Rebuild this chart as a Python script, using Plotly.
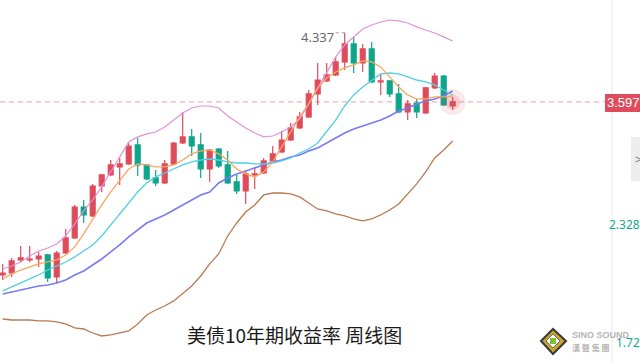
import plotly.graph_objects as go

# ---- data ----
idx = list(range(51))
open_ = [1.746,1.767,1.906,1.906,1.917,1.960,1.725,1.981,2.142,2.473,2.377,2.698,2.816,2.902,2.934,3.137,2.923,2.784,2.730,2.934,3.158,3.223,3.137,2.880,3.094,2.923,2.741,2.645,2.816,2.837,2.966,3.062,3.190,3.319,3.437,3.683,3.822,3.886,4.025,4.218,4.014,4.164,3.811,3.822,3.683,3.490,3.586,3.479,3.747,3.875,3.554]
high = [1.864,1.928,2.056,2.056,1.992,1.971,2.003,2.238,2.495,2.548,2.720,2.827,2.976,2.998,3.158,3.212,2.934,2.869,2.976,3.169,3.490,3.308,3.265,3.094,3.105,3.073,2.816,2.859,2.902,2.998,3.126,3.287,3.372,3.490,3.725,4.014,4.014,4.079,4.337,4.293,4.218,4.239,3.897,3.832,3.790,3.618,3.629,3.758,3.907,3.886,3.651]
low = [1.692,1.725,1.885,1.885,1.832,1.671,1.660,1.971,2.131,2.302,2.367,2.634,2.805,2.709,2.923,2.805,2.762,2.698,2.720,2.923,3.148,3.019,2.784,2.741,2.891,2.720,2.613,2.506,2.666,2.827,2.955,3.051,3.180,3.308,3.426,3.565,3.811,3.875,3.939,3.907,3.918,3.800,3.672,3.651,3.479,3.404,3.426,3.469,3.736,3.554,3.511]
close = [1.767,1.896,1.928,1.917,1.949,1.714,1.981,2.142,2.473,2.388,2.698,2.816,2.923,2.934,3.126,2.923,2.773,2.730,2.934,3.158,3.223,3.126,2.880,3.083,2.912,2.730,2.645,2.827,2.827,2.966,3.041,3.190,3.319,3.437,3.683,3.832,3.886,4.025,4.218,4.014,4.164,3.811,3.822,3.683,3.490,3.576,3.490,3.747,3.875,3.565,3.597]

ma5 = [1.703,1.757,1.799,1.832,1.864,1.885,1.906,1.960,2.046,2.185,2.345,2.495,2.634,2.762,2.880,2.934,2.923,2.902,2.902,2.923,2.976,3.041,3.073,3.083,3.041,2.976,2.880,2.827,2.795,2.848,2.955,3.116,3.276,3.437,3.576,3.747,3.854,3.918,3.961,3.993,4.036,4.025,3.972,3.865,3.758,3.672,3.629,3.629,3.651,3.651,3.661]
ma10 = [1.575,1.618,1.660,1.703,1.746,1.799,1.842,1.885,1.939,2.003,2.067,2.163,2.281,2.399,2.516,2.634,2.730,2.795,2.837,2.880,2.923,2.955,2.976,2.987,2.976,2.955,2.944,2.944,2.934,2.934,2.944,2.966,2.998,3.051,3.094,3.158,3.276,3.404,3.554,3.672,3.758,3.832,3.897,3.907,3.897,3.865,3.832,3.811,3.779,3.725,3.672]
mid = [1.543,1.564,1.585,1.607,1.628,1.639,1.660,1.692,1.746,1.789,1.853,1.917,1.992,2.067,2.153,2.227,2.302,2.345,2.388,2.441,2.495,2.548,2.602,2.634,2.730,2.784,2.827,2.859,2.891,2.923,2.955,2.976,3.009,3.030,3.073,3.105,3.158,3.212,3.265,3.308,3.340,3.372,3.404,3.447,3.501,3.533,3.576,3.608,3.629,3.661,3.715]
upper = [1.810,1.842,1.885,1.949,2.003,2.035,2.078,2.163,2.292,2.431,2.548,2.688,2.848,3.009,3.169,3.223,3.255,3.276,3.330,3.404,3.479,3.533,3.554,3.554,3.533,3.447,3.383,3.319,3.265,3.223,3.233,3.276,3.330,3.415,3.576,3.747,3.918,4.079,4.207,4.293,4.378,4.421,4.453,4.474,4.464,4.442,4.400,4.367,4.335,4.293,4.250]
lower = [1.275,1.264,1.264,1.264,1.254,1.254,1.243,1.222,1.179,1.168,1.125,1.093,1.104,1.125,1.147,1.222,1.318,1.371,1.414,1.468,1.543,1.628,1.735,1.864,1.971,2.163,2.302,2.420,2.495,2.602,2.623,2.623,2.613,2.581,2.516,2.452,2.431,2.399,2.377,2.345,2.324,2.345,2.388,2.441,2.506,2.613,2.720,2.848,2.998,3.083,3.180]

last_price = "3.597"
max_label = "4.337"
axis_labels = ["2.328", "1.72"]
title = "美债10年期收益率 周线图"

RED = "#de4c5b"
GREEN = "#0ea58a"

fig = go.Figure()

# glow around the latest candle
fig.add_trace(go.Scatter(x=[idx[-1]], y=[close[-1]], mode="markers",
                         marker=dict(size=26, color="rgba(222,76,91,0.12)"),
                         hoverinfo="skip", showlegend=False))
fig.add_trace(go.Scatter(x=[idx[-1]], y=[close[-1]], mode="markers",
                         marker=dict(size=15, color="rgba(222,76,91,0.18)"),
                         hoverinfo="skip", showlegend=False))

line_specs = [
    (upper, "#e390de", 1.2),
    (lower, "#b97a52", 1.3),
    (mid, "#7a7af2", 1.6),
    (ma10, "#52d0e4", 1.3),
    (ma5, "#f8a65e", 1.3),
]
for ys, col, w in line_specs:
    fig.add_trace(go.Scatter(x=idx, y=ys, mode="lines",
                             line=dict(color=col, width=w),
                             hoverinfo="skip", showlegend=False))

fig.add_trace(go.Candlestick(
    x=idx, open=open_, high=high, low=low, close=close,
    increasing=dict(line=dict(color=RED, width=1.2), fillcolor=RED),
    decreasing=dict(line=dict(color=GREEN, width=1.2), fillcolor=GREEN),
    whiskerwidth=0, showlegend=False))

W, H = 640, 363
x0 = -0.3
x1 = x0 + W / 9.0
y_lo, y_hi = 0.804, 4.688

shapes = [
    dict(type="line", xref="paper", yref="y", x0=0, x1=612 / W,
         y0=close[-1], y1=close[-1], line=dict(color="#f3b3bb", width=1.2, dash="5px,4px"), layer="below"),
    dict(type="line", xref="paper", yref="paper", x0=612 / W, x1=612 / W, y0=0, y1=1,
         line=dict(color="#eaeaee", width=1)),
    dict(type="rect", xref="paper", yref="paper", x0=605 / W, x1=1.0,
         y0=1 - 112 / H, y1=1 - 94 / H, fillcolor=RED, line=dict(width=0)),
    dict(type="rect", xref="paper", yref="paper", x0=631 / W, x1=1.01,
         y0=1 - 181 / H, y1=1 - 137 / H, fillcolor="#ededf0", line=dict(width=0)),
    dict(type="line", xref="x", yref="y", x0=37.0, x1=38.0, y0=high[38], y1=high[38],
         line=dict(color="#9a9a9a", width=1, dash="dot")),
    dict(type="path", xref="paper", yref="paper",
         path=f"M {541/W},{1-341/H} L {553/W},{1-329/H} L {566/W},{1-341/H} L {553/W},{1-354/H} Z",
         fillcolor="#c7a52a", line=dict(color="#3a3a3a", width=2)),
    dict(type="path", xref="paper", yref="paper",
         path=f"M {546/W},{1-341/H} L {553/W},{1-334/H} L {560/W},{1-341/H} L {553/W},{1-348/H} Z",
         fillcolor="#ffffff", line=dict(color="#6a6a6a", width=1)),
    dict(type="rect", xref="paper", yref="paper", x0=550 / W, x1=556 / W,
         y0=1 - 344 / H, y1=1 - 338 / H, fillcolor="#7fbf3a", line=dict(width=0)),
]

annotations = [
    dict(x=1.0, y=1 - 103 / H, xref="paper", yref="paper", text=last_price,
         showarrow=False, xanchor="right", yanchor="middle", xshift=2,
         font=dict(family="Liberation Sans", size=13, color="white")),
    dict(x=37.0, y=high[38], xref="x", yref="y", text=max_label, showarrow=False,
         xanchor="right", yanchor="middle", yshift=-4,
         font=dict(family="Noto Sans", size=13, color="#666a70")),
    dict(x=1.0, y=1 - 224 / H, xref="paper", yref="paper", text=axis_labels[0],
         showarrow=False, xanchor="right", yanchor="middle", xshift=2,
         font=dict(family="Noto Sans", size=12, color="#17a88b")),
    dict(x=1.0, y=1 - 342 / H, xref="paper", yref="paper", text=axis_labels[1],
         showarrow=False, xanchor="right", yanchor="middle", xshift=2,
         font=dict(family="Noto Sans", size=12, color="#17a88b")),
    dict(x=294 / W, y=1 - 334 / H, xref="paper", yref="paper", text=title,
         showarrow=False, xanchor="center", yanchor="middle",
         font=dict(family="Noto Sans CJK SC", size=19, color="#1a1a1a")),
    dict(x=570 / W, y=1 - 335 / H, xref="paper", yref="paper", text="<b>SINO SOUND</b>",
         showarrow=False, xanchor="left", yanchor="middle",
         font=dict(family="Liberation Sans", size=9, color="#b5b5b5")),
    dict(x=570 / W, y=1 - 347 / H, xref="paper", yref="paper", text="<b>漢 聲 集 團</b>",
         showarrow=False, xanchor="left", yanchor="middle",
         font=dict(family="Noto Sans CJK TC", size=8, color="#b5b5b5")),
    dict(x=633 / W, y=1 - 159 / H, xref="paper", yref="paper", text="&gt;",
         showarrow=False, xanchor="left", yanchor="middle",
         font=dict(family="Noto Sans", size=12, color="#777777")),
]

fig.update_layout(
    width=W, height=H,
    margin=dict(l=0, r=0, t=0, b=0),
    paper_bgcolor="white", plot_bgcolor="white",
    boxgap=0.22,
    showlegend=False,
    xaxis=dict(range=[x0, x1], visible=False, rangeslider=dict(visible=False), fixedrange=True),
    yaxis=dict(range=[y_lo, y_hi], visible=False, fixedrange=True),
    shapes=shapes, annotations=annotations,
)

fig.write_html("out.html", config={"displayModeBar": False},
               post_script="document.body.style.margin='0px';document.body.style.overflow='hidden';")
